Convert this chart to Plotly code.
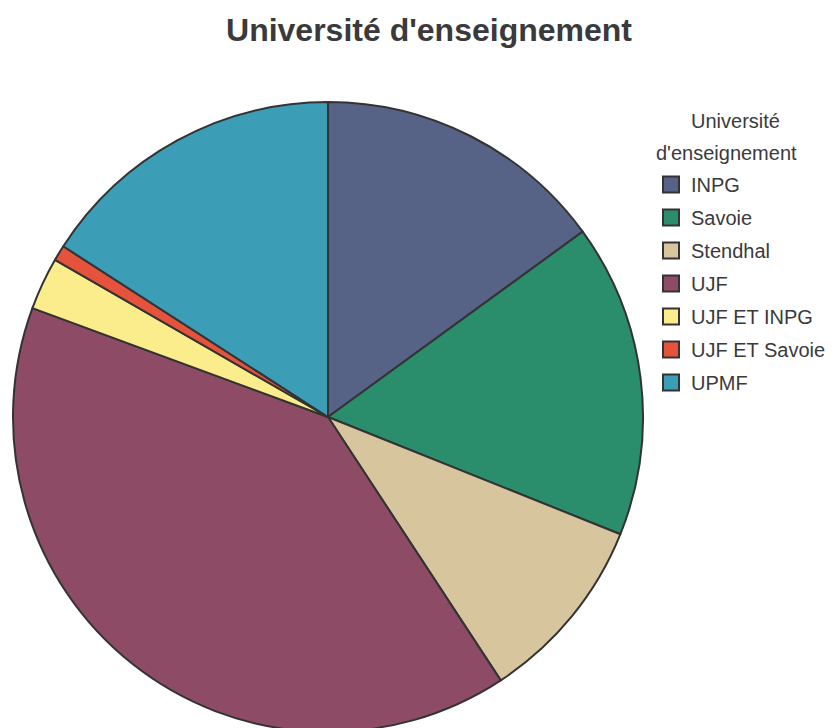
import plotly.graph_objects as go

labels = ["INPG", "Savoie", "Stendhal", "UJF", "UJF ET INPG", "UJF ET Savoie", "UPMF"]
values = [15.0, 16.1, 9.7, 39.9, 2.7, 0.8, 15.9]
colors = ["#566387", "#2a8d6c", "#d6c59d", "#8e4b65", "#fbec8c", "#e5533d", "#3c9db6"]
legend_title_lines = ["Université", "d'enseignement"]

W, H = 837, 728
fig = go.Figure()
fig.add_trace(go.Pie(
    labels=labels, values=values, sort=False, direction="clockwise", rotation=0,
    marker=dict(colors=colors, line=dict(color="#333333", width=2)),
    textinfo="none", hoverinfo="label+percent", showlegend=False,
    domain=dict(x=[5 / W, 635 / W], y=[0, 1]),
))
# legend entries (one per slice) so the entries can be spaced like the original
for lab, col in zip(labels, colors):
    fig.add_trace(go.Scatter(
        x=[None], y=[None], mode="markers", name=lab, legendgroup=lab,
        marker=dict(symbol="square", size=16, color=col,
                    line=dict(color="#333333", width=2)),
        hoverinfo="skip",
    ))

fig.update_layout(
    width=W, height=H,
    margin=dict(l=0, r=0, t=94, b=4, autoexpand=False),
    paper_bgcolor="white", plot_bgcolor="white",
    font=dict(family="Liberation Sans, Arial, sans-serif", color="#3a3a3c"),
    xaxis=dict(visible=False), yaxis=dict(visible=False),
    title=dict(text="<b>Université d'enseignement</b>", x=421 / W, xanchor="center",
               y=1 - 22 / H, yanchor="middle", font=dict(size=32, color="#3a3a3c")),
    legend=dict(
        font=dict(size=20), x=643 / W, xanchor="left", y=0.9, yanchor="top",
        tracegroupgap=4, traceorder="grouped", bgcolor="rgba(0,0,0,0)",
    ),
    annotations=[
        dict(text=legend_title_lines[0], xref="paper", yref="paper",
             x=727 / W, y=1 - 19 / 630, xanchor="center", yanchor="middle",
             showarrow=False, font=dict(size=20, color="#3a3a3c")),
        dict(text=legend_title_lines[1], xref="paper", yref="paper",
             x=718 / W, y=1 - 51 / 630, xanchor="center", yanchor="middle",
             showarrow=False, font=dict(size=20, color="#3a3a3c")),
    ],
)
fig.write_html("out.html")
